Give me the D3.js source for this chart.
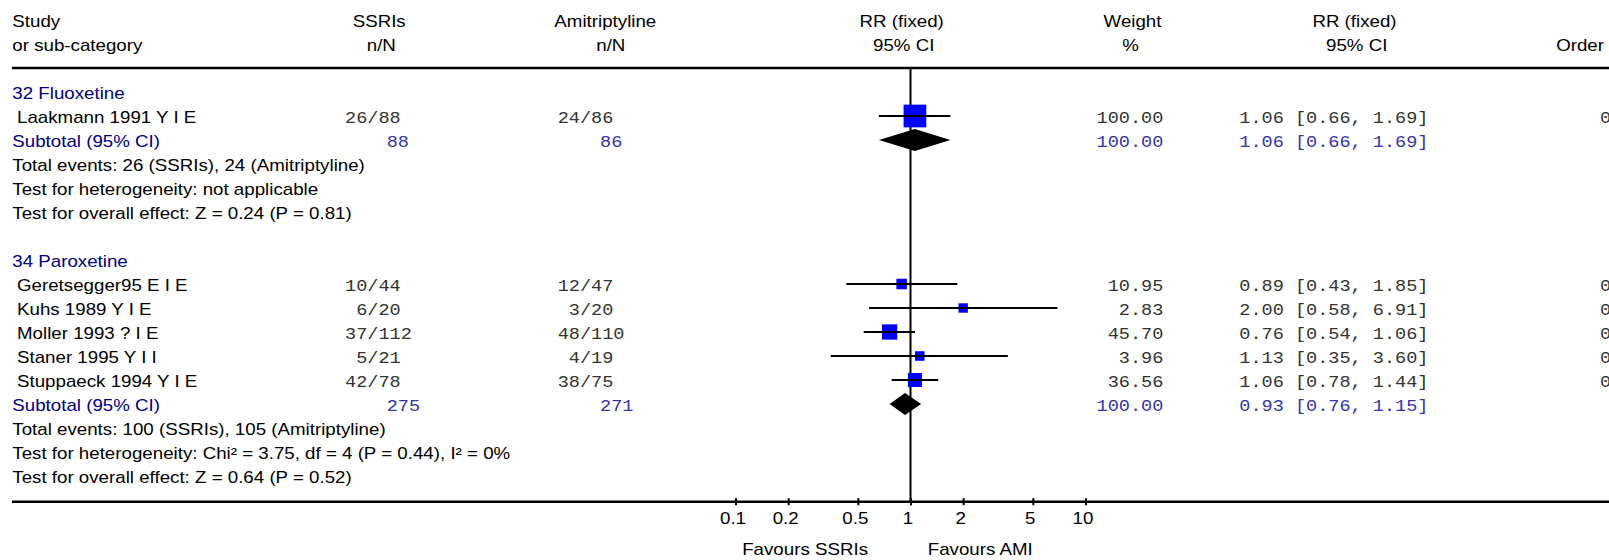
<!DOCTYPE html>
<html><head><meta charset="utf-8">
<script src="https://cdn.jsdelivr.net/npm/d3@7"></script>
<style>body{margin:0;background:#fff}svg{display:block}</style>
</head><body><svg id="c" width="1609" height="560"></svg>
<script>
// ---------- data ----------
const groupNames = ["32 Fluoxetine", "34 Paroxetine"];
const studyNames = ["Laakmann 1991 Y I E", "Geretsegger95 E I E", "Kuhs 1989 Y I E", "Moller 1993 ? I E", "Staner 1995 Y I I", "Stuppaeck 1994 Y I E"];
const studyGroup = [0, 1, 1, 1, 1, 1];
const ssriEvents = [26, 10, 6, 37, 5, 42];
const ssriTotals = [88, 44, 20, 112, 21, 78];
const amiEvents = [24, 12, 3, 48, 4, 38];
const amiTotals = [86, 47, 20, 110, 19, 75];
const studyRR = [1.06, 0.89, 2.00, 0.76, 1.13, 1.06];
const studyLow = [0.66, 0.43, 0.58, 0.54, 0.35, 0.78];
const studyHigh = [1.69, 1.85, 6.91, 1.06, 3.60, 1.44];
const studyWeight = [100.00, 10.95, 2.83, 45.70, 3.96, 36.56];
const studyOrder = ["0", "0", "0", "0", "0", "0"];
const subSsriTotal = [88, 275];
const subAmiTotal = [86, 271];
const subSsriEvents = [26, 100];
const subAmiEvents = [24, 105];
const subRR = [1.06, 0.93];
const subLow = [0.66, 0.76];
const subHigh = [1.69, 1.15];
const subWeight = [100.00, 100.00];
const hetTexts = ["not applicable", "Chi\u00B2 = 3.75, df = 4 (P = 0.44), I\u00B2 = 0%"];
const overallTexts = ["Z = 0.24 (P = 0.81)", "Z = 0.64 (P = 0.52)"];
const tickValues = [0.1, 0.2, 0.5, 1, 2, 5, 10];
const tickLabels = ["0.1", "0.2", "0.5", "1", "2", "5", "10"];
const headerTop = ["Study", "SSRIs", "Amitriptyline", "RR (fixed)", "Weight", "RR (fixed)"];
const headerBottom = ["or sub-category", "n/N", "n/N", "95% CI", "%", "95% CI", "Order"];
const favourLabels = ["Favours SSRIs", "Favours AMI"];

// ---------- layout ----------
const W = 1609, H = 560;
const SANS = "'Liberation Sans', Arial, sans-serif";
const MONO = "'Liberation Mono', 'Courier New', monospace";
const SX = 1.17, MX = 1.16;
const BLUE = "#000080", MBLUE = "#3434a6", MGRAY = "#333";
const headerTopX = [12.3, 379.2, 605.3, 901.7, 1132.5, 1354.5];
const headerTopA = ["start", "middle", "middle", "middle", "middle", "middle"];
const headerBottomX = [12.3, 381.3, 610.8, 903.7, 1130.5, 1356.7, 1604];
const headerBottomA = ["start", "middle", "middle", "middle", "middle", "middle", "end"];

const svg = d3.select("#c");
const x = d3.scaleLog().domain([0.1, 10]).range([735.5, 1085.5]);
const rowY = d3.scaleLinear().domain([0, 16]).range([92, 476]);
const side = d3.scaleLinear().domain([0, 100]).range([9, 22.7]);
const BASE = 7;

function txt(parent, str, px, py, anchor, opts) {
  opts = opts || {};
  const mono = !!opts.mono;
  return parent.append("text")
    .attr("transform", `translate(${px},${py}) scale(${mono ? MX : SX},1)`)
    .attr("text-anchor", anchor || "start")
    .attr("font-family", mono ? MONO : SANS)
    .attr("font-size", 16)
    .attr("fill", opts.fill || (mono ? MGRAY : "#000"))
    .style("white-space", "pre")
    .text(str);
}

// headers
const gh = svg.append("g");
headerTop.forEach((h, i) => txt(gh, h, headerTopX[i], 26.7, headerTopA[i]));
headerBottom.forEach((h, i) => txt(gh, h, headerBottomX[i], 51, headerBottomA[i]));

// top rule
svg.append("line").attr("x1", 12).attr("x2", W).attr("y1", 68).attr("y2", 68)
  .attr("stroke", "#000").attr("stroke-width", 2.5);

const AXIS_Y = 501.7;
svg.append("line").attr("x1", x(1)).attr("x2", x(1)).attr("y1", 68).attr("y2", AXIS_Y)
  .attr("stroke", "#000").attr("stroke-width", 2);

const gText = svg.append("g");
const gMarks = svg.append("g");
const pad2 = n => { const s = String(n); return s.length < 2 ? "\u00A0".repeat(2 - s.length) + s : s; };

let r = 0;
groupNames.forEach((gname, g) => {
  txt(gText, gname, 12.3, rowY(r) + BASE, "start", { fill: BLUE });
  r++;
  studyNames.forEach((name, i) => {
    if (studyGroup[i] !== g) return;
    const cy = rowY(r), by = cy + BASE;
    txt(gText, name, 17, by, "start");
    txt(gText, pad2(ssriEvents[i]) + "/" + ssriTotals[i], 345, by, "start", { mono: true });
    txt(gText, pad2(amiEvents[i]) + "/" + amiTotals[i], 557.7, by, "start", { mono: true });
    txt(gText, studyWeight[i].toFixed(2), 1163.3, by, "end", { mono: true });
    txt(gText, `${studyRR[i].toFixed(2)} [${studyLow[i].toFixed(2)}, ${studyHigh[i].toFixed(2)}]`, 1239.3, by, "start", { mono: true });
    txt(gText, studyOrder[i], 1600, by, "start", { mono: true });
    const s = side(studyWeight[i]);
    gMarks.append("rect").attr("x", x(studyRR[i]) - s / 2).attr("y", cy - s / 2)
      .attr("width", s).attr("height", s).attr("fill", "#0000ff");
    gMarks.append("line").attr("x1", x(studyLow[i])).attr("x2", x(studyHigh[i]))
      .attr("y1", cy).attr("y2", cy).attr("stroke", "#000").attr("stroke-width", 2);
    r++;
  });
  const cy = rowY(r), by = cy + BASE;
  txt(gText, "Subtotal (95% CI)", 12.3, by, "start", { fill: BLUE });
  txt(gText, String(subSsriTotal[g]), 386.7, by, "start", { mono: true, fill: MBLUE });
  txt(gText, String(subAmiTotal[g]), 600, by, "start", { mono: true, fill: MBLUE });
  txt(gText, subWeight[g].toFixed(2), 1163.3, by, "end", { mono: true, fill: MBLUE });
  txt(gText, `${subRR[g].toFixed(2)} [${subLow[g].toFixed(2)}, ${subHigh[g].toFixed(2)}]`, 1239.3, by, "start", { mono: true, fill: MBLUE });
  const pts = [[x(subLow[g]), cy], [x(subRR[g]), cy - 11], [x(subHigh[g]), cy], [x(subRR[g]), cy + 11]];
  gMarks.append("path").attr("d", d3.line()(pts) + "Z").attr("fill", "#000");
  r++;
  txt(gText, `Total events: ${subSsriEvents[g]} (SSRIs), ${subAmiEvents[g]} (Amitriptyline)`, 12.3, rowY(r) + BASE, "start"); r++;
  txt(gText, "Test for heterogeneity: " + hetTexts[g], 12.3, rowY(r) + BASE, "start"); r++;
  txt(gText, "Test for overall effect: " + overallTexts[g], 12.3, rowY(r) + BASE, "start"); r++;
  r++;
});

// bottom rule / axis
svg.append("line").attr("x1", 12).attr("x2", W).attr("y1", AXIS_Y).attr("y2", AXIS_Y)
  .attr("stroke", "#000").attr("stroke-width", 2.5);
const axis = d3.axisBottom(x).tickValues(tickValues).tickFormat((d, i) => tickLabels[i]).tickSize(4);
const ga = svg.append("g").attr("transform", `translate(0,${AXIS_Y})`).call(axis);
ga.select(".domain").remove();
ga.selectAll(".tick line").attr("y1", -3.5).attr("y2", 3.5).attr("stroke", "#000").attr("stroke-width", 2);
ga.selectAll(".tick text")
  .attr("y", null).attr("dy", null)
  .attr("transform", `translate(-3,22.3) scale(${SX},1)`)
  .attr("font-family", SANS).attr("font-size", 16).attr("fill", "#000");

txt(svg, favourLabels[0], 868, 555.3, "end");
txt(svg, favourLabels[1], 927.7, 555.3, "start");
</script></body></html>
